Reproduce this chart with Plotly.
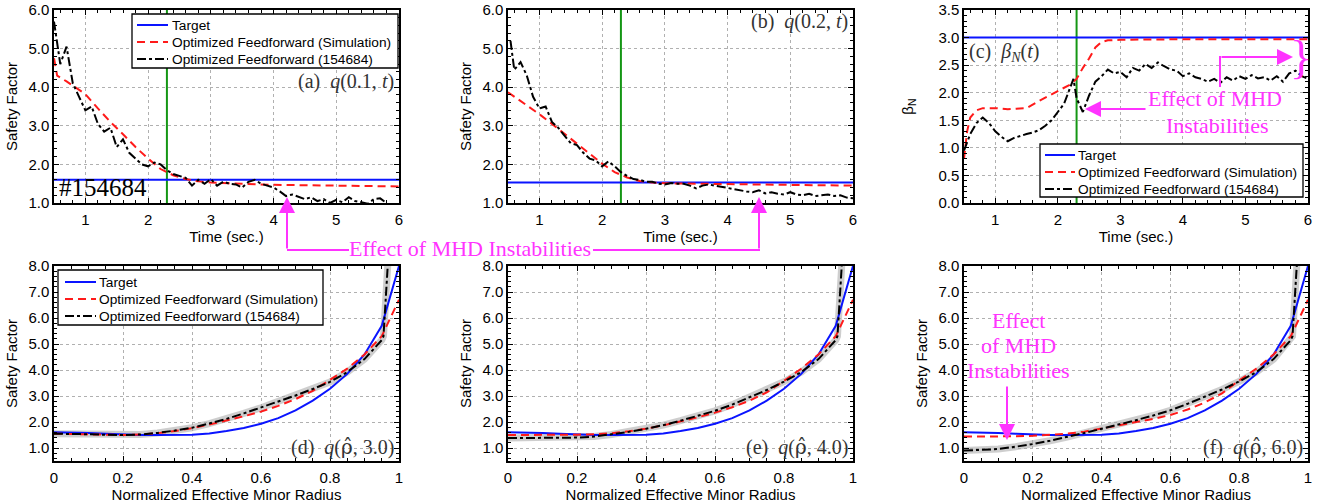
import plotly.graph_objects as go

W, H = 1331, 504

# ---------------- data ----------------
t_switch = 2.3

# (a) q(0.1, t)
q01_target = 1.6
t_sim_a = [0.5, 0.55, 0.7, 0.9, 1.0, 1.2, 1.4, 1.6, 1.8, 2.0, 2.2, 2.4, 2.6, 2.8, 3.0, 3.5, 4.0, 5.0, 6.0]
q01_sim = [4.75, 4.30, 4.15, 3.92, 3.82, 3.45, 3.10, 2.78, 2.45, 2.15, 1.88, 1.72, 1.62, 1.56, 1.53, 1.50, 1.47, 1.45, 1.43]
t_exp_a = [0.5, 0.6, 0.7, 0.8, 0.9, 1.0, 1.1, 1.2, 1.3, 1.4, 1.5, 1.6, 1.7, 1.8, 1.9, 2.0, 2.1, 2.2,
           2.3, 2.4, 2.5, 2.6, 2.7, 2.8, 2.9, 3.0, 3.1, 3.2, 3.3, 3.4, 3.5, 3.6, 3.7, 3.8, 3.9, 4.0,
           4.1, 4.2, 4.3, 4.4, 4.5, 4.6, 4.7, 4.8, 4.9, 5.0, 5.1, 5.2, 5.3, 5.4, 5.5, 5.6, 5.7, 5.8]
q01_exp = [5.70, 4.60, 5.05, 4.10, 3.75, 3.40, 3.50, 3.05, 2.85, 2.95, 2.45, 2.65, 2.30, 2.15, 2.00, 1.95, 2.05, 2.00,
           1.85, 1.75, 1.70, 1.65, 1.45, 1.60, 1.50, 1.62, 1.45, 1.55, 1.50, 1.48, 1.40, 1.55, 1.60, 1.50, 1.45, 1.40,
           1.30, 1.18, 1.22, 1.15, 1.10, 1.15, 1.05, 1.10, 1.00, 1.08, 1.02, 1.15, 1.05, 1.02, 0.98, 1.10, 1.12, 1.00]

# (b) q(0.2, t)
q02_target = 1.53
t_sim_b = [0.5, 0.7, 0.9, 1.0, 1.2, 1.4, 1.6, 1.8, 2.0, 2.2, 2.4, 2.6, 2.8, 3.0, 4.0, 5.0, 6.0]
q02_sim = [3.87, 3.65, 3.42, 3.30, 3.05, 2.80, 2.55, 2.28, 2.02, 1.80, 1.66, 1.57, 1.53, 1.51, 1.49, 1.47, 1.45]
t_exp_b = [0.54, 0.6, 0.7, 0.8, 0.9, 1.0, 1.1, 1.2, 1.3, 1.4, 1.5, 1.6, 1.7, 1.8, 1.9, 2.0, 2.1, 2.2,
           2.3, 2.4, 2.5, 2.6, 2.7, 2.8, 2.9, 3.0, 3.1, 3.2, 3.3, 3.4, 3.5, 3.6, 3.7, 3.8, 3.9, 4.0,
           4.1, 4.2, 4.3, 4.4, 4.5, 4.6, 4.7, 4.8, 4.9, 5.0, 5.1, 5.2, 5.3, 5.4, 5.5, 5.6, 5.7, 5.8, 5.9, 6.0]
q02_exp = [5.20, 4.45, 4.65, 4.30, 3.75, 3.45, 3.50, 3.10, 2.95, 2.75, 2.55, 2.50, 2.30, 2.15, 2.10, 1.95, 2.08, 1.95,
           1.80, 1.70, 1.62, 1.60, 1.55, 1.55, 1.50, 1.48, 1.52, 1.50, 1.50, 1.45, 1.38, 1.45, 1.48, 1.45, 1.42, 1.38,
           1.35, 1.32, 1.30, 1.28, 1.33, 1.25, 1.28, 1.24, 1.22, 1.28, 1.22, 1.20, 1.24, 1.18, 1.20, 1.22, 1.18, 1.20, 1.14, 1.12]

# (c) beta_N(t)
beta_target = 3.0
t_sim_c = [0.5, 0.55, 0.6, 0.7, 0.8, 1.0, 1.2, 1.5, 1.7, 1.9, 2.0, 2.2, 2.3, 2.4, 2.5, 2.6, 2.7, 2.8, 3.0, 4.0, 6.0]
beta_sim = [0.80, 1.30, 1.55, 1.68, 1.72, 1.72, 1.70, 1.72, 1.85, 1.97, 2.02, 2.15, 2.25, 2.45, 2.62, 2.82, 2.92, 2.95, 2.96, 2.97, 2.97]
t_exp_c = [0.5, 0.6, 0.7, 0.8, 0.9, 1.0, 1.1, 1.2, 1.3, 1.4, 1.5, 1.6, 1.7, 1.8, 1.9, 2.0, 2.1, 2.2, 2.25,
           2.3, 2.4, 2.5, 2.6, 2.7, 2.8, 2.9, 3.0, 3.1, 3.2, 3.3, 3.4, 3.5, 3.6, 3.7, 3.8, 3.9, 4.0,
           4.1, 4.2, 4.3, 4.4, 4.5, 4.6, 4.7, 4.8, 4.9, 5.0, 5.1, 5.2, 5.3, 5.4, 5.5, 5.6, 5.7, 5.8, 5.9, 6.0]
beta_exp = [0.95, 1.25, 1.45, 1.55, 1.45, 1.30, 1.20, 1.12, 1.18, 1.22, 1.25, 1.28, 1.32, 1.40, 1.50, 1.65, 1.80, 2.10, 2.25,
            1.90, 1.65, 1.95, 2.20, 2.30, 2.42, 2.35, 2.38, 2.28, 2.45, 2.40, 2.52, 2.45, 2.55, 2.48, 2.42, 2.40, 2.30,
            2.35, 2.28, 2.25, 2.20, 2.25, 2.18, 2.28, 2.22, 2.30, 2.25, 2.32, 2.26, 2.28, 2.22, 2.30, 2.20, 2.35, 2.40, 2.30, 2.25]

# (d)-(f) q profiles
rho = [0, 0.05, 0.1, 0.15, 0.2, 0.25, 0.3, 0.35, 0.4, 0.45, 0.5, 0.55, 0.6, 0.65, 0.7, 0.75, 0.8, 0.85, 0.9, 0.95, 1.0]
q_target_prof = [1.61, 1.60, 1.58, 1.55, 1.52, 1.50, 1.50, 1.50, 1.51, 1.56, 1.65, 1.77, 1.93, 2.15, 2.45, 2.82, 3.28, 3.85, 4.60, 5.70, 8.00]
q_sim_3 = [1.55, 1.54, 1.53, 1.51, 1.50, 1.52, 1.57, 1.65, 1.76, 1.90, 2.05, 2.22, 2.40, 2.62, 2.88, 3.20, 3.62, 4.05, 4.60, 5.30, 6.70]
q_sim_4 = [1.50, 1.50, 1.50, 1.50, 1.51, 1.53, 1.57, 1.64, 1.74, 1.87, 2.02, 2.18, 2.36, 2.57, 2.82, 3.14, 3.58, 4.05, 4.60, 5.30, 6.70]
q_sim_6 = [1.44, 1.44, 1.44, 1.45, 1.47, 1.50, 1.55, 1.63, 1.74, 1.87, 2.00, 2.12, 2.27, 2.48, 2.75, 3.10, 3.60, 4.05, 4.60, 5.30, 6.70]
rho_exp = [0, 0.05, 0.1, 0.15, 0.2, 0.25, 0.3, 0.35, 0.4, 0.45, 0.5, 0.55, 0.6, 0.65, 0.7, 0.75, 0.8, 0.85, 0.9, 0.95, 0.955, 0.97]
q_exp_3 = [1.55, 1.55, 1.53, 1.51, 1.50, 1.52, 1.58, 1.67, 1.78, 1.94, 2.12, 2.33, 2.55, 2.78, 3.02, 3.27, 3.54, 3.92, 4.42, 5.15, 5.30, 8.60]
q_exp_4 = [1.38, 1.38, 1.38, 1.38, 1.40, 1.44, 1.52, 1.62, 1.74, 1.88, 2.05, 2.23, 2.43, 2.67, 2.95, 3.23, 3.55, 3.92, 4.42, 5.15, 5.30, 8.60]
q_exp_6 = [0.90, 0.92, 0.96, 1.05, 1.15, 1.28, 1.42, 1.58, 1.74, 1.90, 2.07, 2.25, 2.45, 2.70, 2.97, 3.25, 3.56, 3.92, 4.42, 5.15, 5.30, 8.60]

names = ['Target', 'Optimized Feedforward (Simulation)', 'Optimized Feedforward (154684)']

BLUE = '#0a14ff'
RED = '#ff1a1a'
GREEN = '#149614'
MAGENTA = '#ff33ff'
SANS = 'Liberation Sans, Arial, sans-serif'
SERIF = 'Liberation Serif, Times New Roman, serif'
line_styles = [dict(color=BLUE, width=2),
               dict(color=RED, width=2, dash='8px,5px'),
               dict(color='black', width=2, dash='9px,3px,3px,3px')]

fig = go.Figure()


def px_x(p):
    # pixel -> paper fraction
    return p / W


def px_y(p):
    return 1 - p / H


# green vertical line marking the switch time
for xa, ya, ylo, yhi in [('x', 'y', 1.0, 6.0), ('x2', 'y2', 1.0, 6.0), ('x3', 'y3', 0.0, 3.5)]:
    fig.add_trace(go.Scatter(x=[t_switch, t_switch], y=[ylo, yhi], mode='lines', xaxis=xa, yaxis=ya,
                             showlegend=False, line=dict(color=GREEN, width=2)))


def add_set(n, target_xy, sim_xy, exp_xy, band=False):
    xa = 'x' if n == 1 else 'x%d' % n
    ya = 'y' if n == 1 else 'y%d' % n
    if band:
        fig.add_trace(go.Scatter(x=exp_xy[0], y=exp_xy[1], mode='lines', xaxis=xa, yaxis=ya, showlegend=False,
                                 line=dict(color='rgba(165,165,165,0.55)', width=7)))
    for (xs, ys), nm, st in zip([target_xy, sim_xy, exp_xy], names, line_styles):
        fig.add_trace(go.Scatter(x=xs, y=ys, mode='lines', name=nm, xaxis=xa, yaxis=ya,
                                 showlegend=False, line=st))


add_set(1, ([0.5, 6], [q01_target] * 2), (t_sim_a, q01_sim), (t_exp_a, q01_exp))
add_set(2, ([0.5, 6], [q02_target] * 2), (t_sim_b, q02_sim), (t_exp_b, q02_exp))
add_set(3, ([0.5, 6], [beta_target] * 2), (t_sim_c, beta_sim), (t_exp_c, beta_exp))
add_set(4, (rho, q_target_prof), (rho, q_sim_3), (rho_exp, q_exp_3), band=True)
add_set(5, (rho, q_target_prof), (rho, q_sim_4), (rho_exp, q_exp_4), band=True)
add_set(6, (rho, q_target_prof), (rho, q_sim_6), (rho_exp, q_exp_6), band=True)

# ---------------- axes ----------------
col_x = [(54, 399), (508, 853), (964, 1308)]
row_y = [(10, 203), (266, 461)]


def ax_common():
    return dict(showline=True, linecolor='black', linewidth=1.5, mirror='ticks', ticks='inside',
                ticklen=5, tickwidth=1, tickcolor='black', showgrid=True, gridcolor='#b0b0b0',
                griddash='dot', gridwidth=1, zeroline=False, automargin=False,
                ticklabeloverflow='allow',
                tickfont=dict(family=SANS, size=15, color='black'),
                title_font=dict(family=SANS, size=15, color='black'))


def minor(d):
    return dict(dtick=d, ticks='inside', ticklen=3, tickcolor='black', showgrid=False)


layout_axes = {}
for i in range(6):
    n = i + 1
    r, c = divmod(i, 3)
    xk = 'xaxis' if n == 1 else 'xaxis%d' % n
    yk = 'yaxis' if n == 1 else 'yaxis%d' % n
    xd = [px_x(col_x[c][0]), px_x(col_x[c][1])]
    yd = [px_y(row_y[r][1]), px_y(row_y[r][0])]
    xa = ax_common()
    ya = ax_common()
    xa.update(domain=xd, anchor='y' if n == 1 else 'y%d' % n, ticklabelstandoff=2)
    ya.update(domain=yd, anchor='x' if n == 1 else 'x%d' % n, tickformat='.1f')
    if r == 0:
        xa.update(range=[0.5, 6], tick0=0, dtick=1, minor=minor(0.2),
                  title=dict(text='Time (sec.)', standoff=3))
        if n == 3:
            ya.update(range=[0, 3.5], dtick=0.5, minor=minor(0.1),
                      title=dict(text='β<sub>N</sub>', standoff=21))
        else:
            ya.update(range=[1, 6], dtick=1, minor=minor(0.2),
                      title=dict(text='Safety Factor', standoff=7))
    else:
        xa.update(range=[0, 1], tickvals=[0, 0.2, 0.4, 0.6, 0.8, 1], ticktext=['0', '0.2', '0.4', '0.6', '0.8', '1'],
                  minor=minor(0.05),
                  title=dict(text='Normalized Effective Minor Radius', standoff=0))
        ya.update(range=[0.5, 8], tick0=0, dtick=1, minor=minor(0.2),
                  title=dict(text='Safety Factor', standoff=7))
    layout_axes[xk] = xa
    layout_axes[yk] = ya

fig.update_layout(**layout_axes)
fig.update_layout(width=W, height=H, margin=dict(l=0, r=0, t=0, b=0, autoexpand=False),
                  paper_bgcolor='white', plot_bgcolor='white', showlegend=False)

ann = []
shapes = []


# ---------------- legends (boxed, tight row spacing like the original) ----------------
def draw_legend(box, sample, text_x, rows):
    x0, y0, x1, y1 = box
    shapes.append(dict(type='rect', xref='paper', yref='paper', x0=px_x(x0), x1=px_x(x1),
                       y0=px_y(y1), y1=px_y(y0), fillcolor='white', line=dict(color='black', width=1.3)))
    for yy, nm, st in zip(rows, names, line_styles):
        shapes.append(dict(type='line', xref='paper', yref='paper', x0=px_x(sample[0]), x1=px_x(sample[1]),
                           y0=px_y(yy), y1=px_y(yy), line=st))
        ann.append(dict(xref='paper', yref='paper', x=px_x(text_x), y=px_y(yy), text=nm, showarrow=False,
                        xanchor='left', yanchor='middle', font=dict(family=SANS, size=13.7, color='black')))


draw_legend((132, 14, 398, 68), (137, 168), 170, [25, 42, 59])
draw_legend((1040, 144, 1303, 197), (1045, 1075), 1076, [155, 172, 189])
draw_legend((58, 270, 323, 325), (65, 96), 97, [282, 299, 316])

# ---------------- panel labels ----------------
label_font = dict(family=SERIF, size=20, color='#333333')
rho_hat = '<span style="font-family:DejaVu Serif">ρ̂</span>'
ann.append(dict(xref='x domain', yref='y domain', x=0.99, y=0.63, xanchor='right', yanchor='middle',
                text='(a)  <i>q</i>(0.1, <i>t</i>)', showarrow=False, font=label_font))
ann.append(dict(xref='x2 domain', yref='y2 domain', x=0.99, y=0.94, xanchor='right', yanchor='middle',
                text='(b)  <i>q</i>(0.2, <i>t</i>)', showarrow=False, font=label_font))
ann.append(dict(xref='x3 domain', yref='y3 domain', x=0.01, y=0.78, xanchor='left', yanchor='middle',
                text='(c)  <i>β<sub>N</sub></i>(<i>t</i>)', showarrow=False, font=label_font))
for n, lab, tt in [(4, 'd', '3.0'), (5, 'e', '4.0'), (6, 'f', '6.0')]:
    ann.append(dict(xref='x%d domain' % n, yref='y%d domain' % n, x=0.99, y=0.07, xanchor='right', yanchor='middle',
                    text='(%s)  <i>q</i>(%s, %s)' % (lab, rho_hat, tt), showarrow=False, font=label_font))
ann.append(dict(xref='x domain', yref='y domain', x=0.01, y=0.0, xanchor='left', yanchor='bottom',
                text='#154684', showarrow=False, font=dict(family=SERIF, size=25, color='black')))

# ---------------- magenta call-outs ----------------
mfont = dict(family=SERIF, size=22, color=MAGENTA)


def mtext(x, y, txt):
    ann.append(dict(xref='paper', yref='paper', x=px_x(x), y=px_y(y), text=txt, xanchor='center',
                    yanchor='middle', showarrow=False, font=mfont))


def marrow(x, y, ax, ay):
    ann.append(dict(xref='paper', yref='paper', x=px_x(x), y=px_y(y), text='', showarrow=True,
                    ax=ax, ay=ay, arrowhead=2, arrowsize=1.6, arrowwidth=2, arrowcolor=MAGENTA, standoff=0))


def mline(x0, y0, x1, y1):
    shapes.append(dict(type='line', xref='paper', yref='paper', x0=px_x(x0), x1=px_x(x1),
                       y0=px_y(y0), y1=px_y(y1), line=dict(color=MAGENTA, width=2)))


# middle: shared label with two arrows
mtext(470, 248, 'Effect of MHD Instabilities')
marrow(287, 197, 0, 53)
marrow(759, 197, 0, 53)
mline(287, 250, 349, 250)
mline(593, 250, 760, 250)
# (c) label and arrows
mtext(1215, 99, 'Effect of MHD')
mtext(1217, 125, 'Instabilities')
marrow(1085, 109, 62, 0)
marrow(1293, 57, -73, 0)
mline(1220, 87, 1220, 56)
ann.append(dict(xref='paper', yref='paper', x=px_x(1301), y=px_y(57), text='}', showarrow=False,
                xanchor='center', yanchor='middle', font=dict(family=SERIF, size=46, color=MAGENTA)))
# (f) label and arrow
mtext(1018, 320, 'Effect')
mtext(1018, 345, 'of MHD')
mtext(1018, 370, 'Instabilities')
marrow(1007, 440, 0, -55)

fig.update_layout(annotations=ann, shapes=shapes)

# the default page has an 8px body margin; drop it so the figure fills the window
fig.write_html("out.html", config={'displayModeBar': False},
               post_script="document.body.style.margin = '0px';")
